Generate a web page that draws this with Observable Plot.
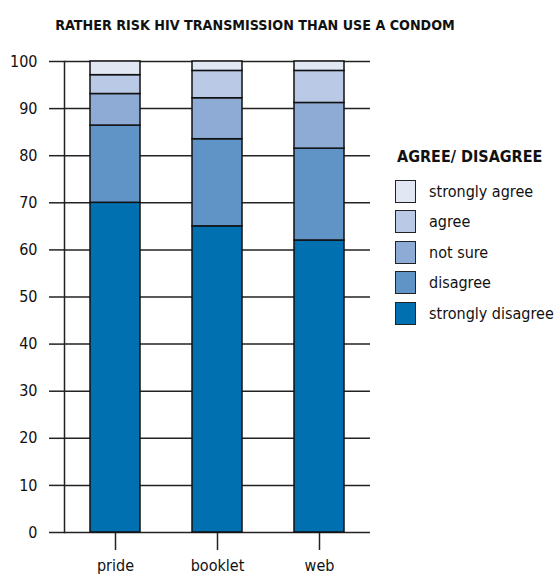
<!DOCTYPE html>
<html>
<head>
<meta charset="utf-8">
<script src="https://cdn.jsdelivr.net/npm/d3@7"></script>
<script src="https://cdn.jsdelivr.net/npm/@observablehq/plot@0.6"></script>
<style>
  html, body { margin: 0; padding: 0; background: #fff; }
  #wrap { position: relative; width: 558px; height: 574px; overflow: hidden;
          font-family: "DejaVu Sans Condensed", "DejaVu Sans", sans-serif; font-stretch: condensed; color: #111; }
  #wrap svg { position: absolute; left: 0; top: 0; font-stretch: condensed; }
  #title { position: absolute; left: 0; width: 510px; top: 17px; text-align: center;
           font-weight: bold; font-size: 14.2px; white-space: nowrap; }
  #legend { position: absolute; left: 395px; top: 147px; white-space: nowrap; }
  #legend .lt { font-weight: bold; font-size: 16px; margin-bottom: 10px; margin-left: 2px; }
  #legend .item { display: flex; align-items: center; height: 30.5px; }
  #legend .sw { width: 21px; height: 23px; border: 1px solid #222; box-sizing: border-box; margin-right: 13px; }
  #legend .lab { font-size: 16px; }
</style>
</head>
<body>
<div id="wrap">
  <div id="title">RATHER RISK HIV TRANSMISSION THAN USE A CONDOM</div>
  <div id="legend"></div>
</div>
<script>
const categories = ["pride", "booklet", "web"];
const series = ["strongly disagree", "disagree", "not sure", "agree", "strongly agree"];
const stronglyDisagree = [70, 65, 62];
const disagree = [16.4, 18.5, 19.5];
const notSure = [6.7, 8.7, 9.7];
const agree = [4.0, 5.8, 6.8];
const stronglyAgree = [2.9, 2.0, 2.0];
const colors = ["#0070b0", "#6094c6", "#8dabd4", "#bacae6", "#e2e8f3"];
const yTicks = [0, 10, 20, 30, 40, 50, 60, 70, 80, 90, 100];

const seriesValues = [stronglyDisagree, disagree, notSure, agree, stronglyAgree];
const data = [];
series.forEach((s, i) => {
  categories.forEach((c, j) => data.push({ category: c, response: s, value: seriesValues[i][j] }));
});

const chart = Plot.plot({
  width: 558,
  height: 574,
  marginLeft: 64,
  marginRight: 188,
  marginTop: 61,
  marginBottom: 42,
  style: { fontFamily: '"DejaVu Sans Condensed", "DejaVu Sans", sans-serif', fontSize: "16px", color: "#111", background: "transparent" },
  x: { domain: categories, paddingInner: 0.51, paddingOuter: 0.255, label: null },
  y: { domain: [0, 100], label: null },
  color: { domain: series, range: colors },
  marks: [
    Plot.ruleY(yTicks, { stroke: "#222", strokeWidth: 1.5 }),
    Plot.frame({ anchor: "left", stroke: "#222", strokeWidth: 1.5 }),
    Plot.axisY({ ticks: yTicks, tickSize: 15, tickPadding: 12, fontSize: 16, stroke: "#222", strokeWidth: 1.5, label: null }),
    Plot.axisX({ tickSize: 18, tickPadding: 9, fontSize: 16, stroke: "#222", strokeWidth: 1.5, label: null }),
    Plot.barY(data, Plot.stackY({ order: null }, { x: "category", y: "value", fill: "response", stroke: "#111", strokeWidth: 1.5 }))
  ]
});
document.getElementById("wrap").insertBefore(chart, document.getElementById("title"));

const legend = document.getElementById("legend");
const lt = document.createElement("div");
lt.className = "lt";
lt.textContent = "AGREE/ DISAGREE";
legend.appendChild(lt);
series.slice().reverse().forEach((s) => {
  const item = document.createElement("div");
  item.className = "item";
  const sw = document.createElement("div");
  sw.className = "sw";
  sw.style.background = colors[series.indexOf(s)];
  const lab = document.createElement("div");
  lab.className = "lab";
  lab.textContent = s;
  item.appendChild(sw);
  item.appendChild(lab);
  legend.appendChild(item);
});
</script>
</body>
</html>
